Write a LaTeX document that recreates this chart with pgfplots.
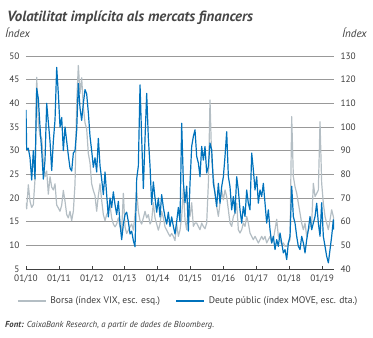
\documentclass[border=0pt]{standalone}
\usepackage{pgfplots}
\pgfplotsset{compat=1.18}
\usepackage{pgfplotstable}
\usepackage{fontspec}
\setmainfont{PT Sans}
\definecolor{vixgray}{RGB}{180,190,196}
\definecolor{moveblue}{RGB}{0,114,188}
\definecolor{txt}{RGB}{60,60,60}

\pgfplotstableread{
t v
2010.000 19
2010.021 17.7
2010.071 22.8
2010.122 19.3
2010.173 18
2010.223 18.6
2010.274 24
2010.325 45.5
2010.375 36
2010.426 33
2010.477 32.6
2010.527 27.7
2010.578 24.5
2010.629 25.7
2010.679 20.8
2010.730 24.5
2010.781 22.3
2010.831 21.7
2010.882 23
2010.933 18.5
2010.983 17.9
2011.034 17.2
2011.085 18.5
2011.135 21.6
2011.186 19.3
2011.237 16.5
2011.287 15.8
2011.338 17.2
2011.388 15.2
2011.439 17.2
2011.490 23
2011.540 40
2011.591 48
2011.642 42.1
2011.692 45.4
2011.743 39.3
2011.794 35.9
2011.844 34.6
2011.895 29.4
2011.946 27.4
2011.996 23
2012.047 21.6
2012.098 20.5
2012.148 17.2
2012.199 20.5
2012.250 23
2012.300 19.5
2012.351 16.5
2012.402 15.2
2012.452 16.5
2012.503 17.2
2012.554 18.5
2012.604 15.8
2012.655 14.5
2012.706 13.9
2012.756 14.5
2012.807 15.8
2012.858 13.9
2012.908 13.2
2012.959 21
2013.010 13.9
2013.060 12.5
2013.111 13.2
2013.162 13.9
2013.212 14.5
2013.263 13.2
2013.314 16.5
2013.364 21.6
2013.415 17.2
2013.466 15.2
2013.516 14.5
2013.567 15.8
2013.618 17.2
2013.668 15.8
2013.719 16.5
2013.770 14.5
2013.820 15.2
2013.871 19
2013.921 15.8
2013.972 14.5
2014.023 13.2
2014.073 14.5
2014.124 17.2
2014.175 15.8
2014.225 13.9
2014.276 13.2
2014.327 12.5
2014.377 11.9
2014.428 12.5
2014.479 11.9
2014.529 11
2014.580 14.5
2014.631 11.9
2014.681 13.2
2014.732 16
2014.783 22
2014.833 15.4
2014.884 13.3
2014.935 19
2014.985 16.1
2015.036 19
2015.087 14
2015.137 14.7
2015.188 14.7
2015.239 14
2015.289 13.3
2015.340 14.7
2015.391 14
2015.441 13.5
2015.492 14.7
2015.543 23.1
2015.593 40.7
2015.644 28
2015.695 24.5
2015.745 21
2015.796 18.2
2015.847 16.1
2015.897 18.9
2015.948 21.7
2015.999 19.6
2016.049 21.7
2016.100 20.3
2016.151 17.5
2016.201 14.7
2016.252 14
2016.303 16.1
2016.353 16.8
2016.404 18.9
2016.454 13.3
2016.505 12.6
2016.556 13.3
2016.606 14.7
2016.657 14
2016.708 16.1
2016.758 14.7
2016.809 12.6
2016.860 11.9
2016.910 11.2
2016.961 11.9
2017.012 11.2
2017.062 10.5
2017.113 11.2
2017.164 11.9
2017.214 11.2
2017.265 11.9
2017.316 10.5
2017.366 11.2
2017.417 11.9
2017.468 10.5
2017.518 11.2
2017.569 13.3
2017.620 15.5
2017.670 12
2017.721 11.2
2017.772 10.2
2017.822 10.5
2017.873 9.8
2017.924 9.8
2017.974 10.5
2018.025 11.2
2018.076 37.2
2018.126 24.5
2018.177 22.4
2018.228 21
2018.278 18.9
2018.329 16.8
2018.380 14.7
2018.430 13.3
2018.481 14.7
2018.532 11.9
2018.582 13.3
2018.633 14
2018.684 14.7
2018.734 23.1
2018.785 20.3
2018.836 21
2018.886 21.7
2018.937 36.1
2018.987 23.1
2019.038 18.9
2019.089 16.1
2019.139 14.7
2019.190 13.3
2019.241 15.4
2019.291 17.5
2019.342 16.1
2019.362 15
}\vixdata

\pgfplotstableread{
t m
2010.000 107.2
2010.021 90.4
2010.071 91
2010.122 87
2010.173 77.6
2010.223 90
2010.274 78
2010.325 116.4
2010.375 112
2010.426 100
2010.477 90
2010.527 78
2010.578 86
2010.629 110
2010.679 102
2010.730 94
2010.781 81.6
2010.831 94
2010.882 103
2010.933 125.2
2010.983 114
2011.034 100
2011.085 104
2011.135 90
2011.186 100
2011.237 94
2011.287 88
2011.338 82.6
2011.388 81.4
2011.439 89
2011.490 90
2011.540 98.6
2011.591 118.4
2011.642 108
2011.692 102.8
2011.743 110
2011.794 115.8
2011.844 114
2011.895 106
2011.946 96
2011.996 90
2012.047 83
2012.098 87
2012.148 81
2012.199 95.2
2012.250 83.6
2012.300 78
2012.351 71.4
2012.402 81
2012.452 71.4
2012.503 62
2012.554 70
2012.604 66
2012.655 72.6
2012.706 67.2
2012.756 63
2012.807 68.6
2012.858 59
2012.908 52.4
2012.959 59
2013.010 63
2013.060 64
2013.111 60
2013.162 54.8
2013.212 56
2013.263 52
2013.314 49.4
2013.364 78
2013.415 83.6
2013.466 117.8
2013.516 95.2
2013.567 74
2013.618 95.2
2013.668 114.2
2013.719 95.2
2013.770 83.6
2013.820 67.2
2013.871 76.8
2013.921 70
2013.972 64
2014.023 70
2014.073 62
2014.124 71.4
2014.175 66
2014.225 62
2014.276 59
2014.327 64
2014.377 58
2014.428 62
2014.479 58
2014.529 54.8
2014.580 60
2014.631 66
2014.681 60
2014.732 101.6
2014.783 76.8
2014.833 68
2014.884 75
2014.935 56
2014.985 76.2
2015.036 91.8
2015.087 96
2015.137 98.8
2015.188 87.6
2015.239 84.8
2015.289 79
2015.340 91.8
2015.391 86
2015.441 91.8
2015.492 80.6
2015.543 83.4
2015.593 93.2
2015.644 90.4
2015.695 76.2
2015.745 72
2015.796 66.4
2015.847 76.2
2015.897 67.8
2015.948 74.8
2015.999 79
2016.049 87.6
2016.100 98
2016.151 79
2016.201 74.8
2016.252 65
2016.303 70.6
2016.353 63.6
2016.404 79
2016.454 73.4
2016.505 65
2016.556 59.4
2016.606 66.4
2016.657 62.2
2016.708 73.4
2016.758 67.8
2016.809 65
2016.860 89
2016.910 82
2016.961 73.4
2017.012 79
2017.062 67.8
2017.113 73.4
2017.164 70.6
2017.214 76.2
2017.265 67.8
2017.316 59.4
2017.366 65
2017.417 56.6
2017.468 51
2017.518 53.8
2017.569 48.2
2017.620 52.4
2017.670 49.6
2017.721 55.2
2017.772 51
2017.822 46.8
2017.873 48.2
2017.924 44
2017.974 51
2018.025 53.8
2018.076 75
2018.126 62.2
2018.177 59.4
2018.228 53.8
2018.278 49.6
2018.329 48.2
2018.380 53.8
2018.430 51
2018.481 46.8
2018.532 52.4
2018.582 56.6
2018.633 62.2
2018.684 56.6
2018.734 59.4
2018.785 62.2
2018.836 67.8
2018.886 59.4
2018.937 53.8
2018.987 68
2019.038 53.8
2019.089 49.6
2019.139 45.4
2019.190 42.6
2019.241 48.2
2019.291 53.8
2019.342 60.8
2019.362 56.6
}\movedata

\begin{document}
\begin{tikzpicture}
\path[use as bounding box] (-26pt,-69pt) rectangle (347pt,269pt);
\pgfplotsset{
  common/.style={
    at={(0pt,0pt)}, anchor=south west,
    scale only axis, width=308pt, height=213pt,
    xmin=2010, xmax=2019.362,
    tick label style={font=\fontsize{9.3}{10}\selectfont, text=txt},
    /pgf/number format/assume math mode=true,
    clip=true,
  }
}
\begin{axis}[common,
  ymin=5, ymax=50, ytick={5,10,...,50},
  axis x line*=bottom, axis y line*=left,
  y axis line style={draw=none}, ytick style={draw=none},
  x axis line style={-, draw=black!75, line width=0.7pt},
  xtick={2010,2011,...,2019},
  xticklabels={01/10,01/11,01/12,01/13,01/14,01/15,01/16,01/17,01/18,01/19},
  xtick style={draw=black!75, line width=0.6pt},
  tick align=inside, major tick length=3pt,
  ymajorgrids, grid style={draw=black!40, line width=0.6pt},
  yticklabel style={xshift=-3pt},
  xticklabel style={yshift=-2pt},
]
\addplot[vixgray, line width=1.2pt, line join=round] table[x=t, y=v] {\vixdata};
\end{axis}
\begin{axis}[common,
  ymin=40, ymax=130, ytick={40,50,...,130},
  axis x line=none, axis y line*=right,
  y axis line style={draw=none}, ytick style={draw=none},
  yticklabel style={xshift=3pt, anchor=west},
  legend columns=2,
  legend style={at={(axis description cs:-0.029,-0.150)}, anchor=west,
    draw=none, fill=none, inner sep=0pt, outer sep=0pt,
    font=\fontsize{9.6}{10}\selectfont, text=txt,
    nodes={inner sep=3.5pt},
    /tikz/every even column/.append style={column sep=12pt}},
  legend cell align=left,
  legend image code/.code={\draw[#1, line width=1.8pt] (0pt,0pt) -- (28pt,0pt);},
]
\addlegendimage{vixgray}
\addlegendentry{Borsa (índex VIX, esc. esq.)}
\addplot[moveblue, line width=1.2pt, line join=round] table[x=t, y=m] {\movedata};
\addlegendentry{Deute públic (índex MOVE, esc. dta.)}
\end{axis}
\node[anchor=base west, inner sep=0pt, text=black!72, font=\fontsize{14.8}{16}\selectfont\bfseries\itshape] at (-19pt,247pt) {Volatilitat implícita als mercats financers};
\node[anchor=base west, inner sep=0pt, text=txt, font=\fontsize{11}{12}\selectfont\itshape] at (-21pt,231pt) {Índex};
\node[anchor=base east, inner sep=0pt, text=txt, font=\fontsize{11}{12}\selectfont\itshape] at (341pt,231pt) {Índex};
\node[anchor=base west, inner sep=0pt, text=txt, font=\fontsize{8.7}{10}\selectfont\itshape] at (-21pt,-58pt) {\textbf{Font:} CaixaBank Research, a partir de dades de Bloomberg.};
\end{tikzpicture}
\end{document}
